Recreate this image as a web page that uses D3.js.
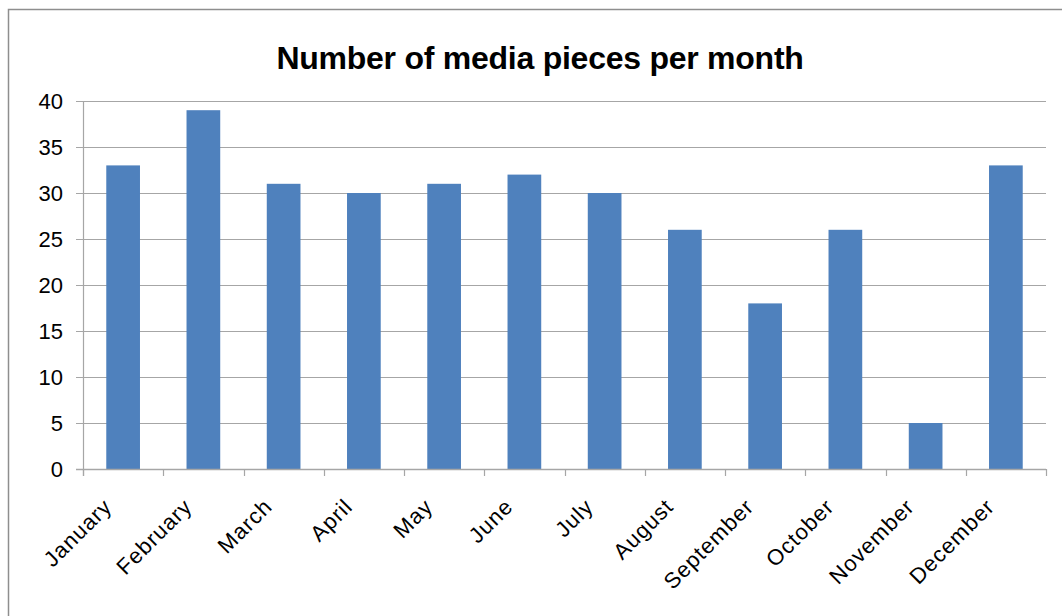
<!DOCTYPE html>
<html>
<head>
<meta charset="utf-8">
<script src="https://cdn.jsdelivr.net/npm/d3@7"></script>
<style>
  body { margin: 0; background: #fff; }
  svg { display: block; }
  text { font-family: "Liberation Sans", Arial, sans-serif; fill: #000; }
</style>
</head>
<body>
<svg id="chart" width="1062" height="616"></svg>
<script>
// data
var months = [ 'January', 'February', 'March', 'April', 'May', 'June',
    'July', 'August', 'September', 'October', 'November', 'December' ];
var pieces = [ 33, 39, 31, 30, 31, 32, 30, 26, 18, 26, 5, 33 ];
var yTicks = [ 0, 5, 10, 15, 20, 25, 30, 35, 40 ];

var svg = d3.select( '#chart' );
var margin = { left: 83, right: 16, top: 101, bottom: 147 };
var w = 1062 - margin.left - margin.right;
var h = 616 - margin.top - margin.bottom;

// outer frame (runs off the right and bottom of the window)
svg.append( 'rect' )
    .attr( 'x', 8.5 ).attr( 'y', 9.5 )
    .attr( 'width', 1100 ).attr( 'height', 700 )
    .style( 'fill', 'none' )
    .style( 'stroke', '#8e8e8e' )
    .style( 'stroke-width', 1.5 );

svg.append( 'text' )
    .attr( 'x', 540 ).attr( 'y', 69 )
    .attr( 'text-anchor', 'middle' )
    .style( 'font-size', '32px' )
    .style( 'font-weight', 'bold' )
    .style( 'letter-spacing', '-0.25px' )
    .text( 'Number of media pieces per month' );

var g = svg.append( 'g' )
    .attr( 'transform', 'translate(' + margin.left + ',' + margin.top + ')' );

var x = d3.scaleBand().domain( months ).range( [ 0, w ] ).paddingInner( 0.58 ).paddingOuter( 0.29 );
var y = d3.scaleLinear().domain( [ 0, 40 ] ).range( [ h, 0 ] );

// gridlines
g.selectAll( '.grid' )
    .data( yTicks )
  .enter().append( 'line' )
    .attr( 'x1', -7 ).attr( 'x2', w )
    .attr( 'y1', function( d ) { return Math.round( y( d ) ) + 0.5; } )
    .attr( 'y2', function( d ) { return Math.round( y( d ) ) + 0.5; } )
    .style( 'stroke', '#a6a6a6' )
    .style( 'stroke-width', 1.2 );

g.selectAll( '.ylab' )
    .data( yTicks )
  .enter().append( 'text' )
    .attr( 'x', -20 )
    .attr( 'y', function( d ) { return y( d ); } )
    .attr( 'dy', '0.36em' )
    .attr( 'text-anchor', 'end' )
    .style( 'font-size', '22px' )
    .text( function( d ) { return d; } );

// bars
g.selectAll( '.bar' )
    .data( pieces )
  .enter().append( 'rect' )
    .attr( 'x', function( d, i ) { return x( months[ i ] ); } )
    .attr( 'y', function( d ) { return y( d ); } )
    .attr( 'width', x.bandwidth() )
    .attr( 'height', function( d ) { return h - y( d ); } )
    .style( 'fill', '#4f81bd' );

// axes lines
g.append( 'line' )
    .attr( 'x1', 0.5 ).attr( 'x2', 0.5 )
    .attr( 'y1', 0 ).attr( 'y2', h + 7 )
    .style( 'stroke', '#a6a6a6' ).style( 'stroke-width', 1.2 );
g.append( 'line' )
    .attr( 'x1', -7 ).attr( 'x2', w )
    .attr( 'y1', h + 0.5 ).attr( 'y2', h + 0.5 )
    .style( 'stroke', '#a6a6a6' ).style( 'stroke-width', 1.5 );

var step = x.step();
g.selectAll( '.xtick' )
    .data( d3.range( months.length + 1 ) )
  .enter().append( 'line' )
    .attr( 'x1', function( d ) { return Math.round( d * step ) + 0.5; } )
    .attr( 'x2', function( d ) { return Math.round( d * step ) + 0.5; } )
    .attr( 'y1', h ).attr( 'y2', h + 7 )
    .style( 'stroke', '#a6a6a6' ).style( 'stroke-width', 1.2 );

g.selectAll( '.xlab' )
    .data( months )
  .enter().append( 'text' )
    .attr( 'transform', function( d ) {
        return 'translate(' + ( x( d ) + x.bandwidth() / 2 - 10 ) + ',' + ( h + 39 ) + ') rotate(-45)';
    })
    .attr( 'text-anchor', 'end' )
    .style( 'font-size', '22px' )
    .style( 'letter-spacing', '1px' )
    .text( function( d ) { return d; } );
</script>
</body>
</html>
